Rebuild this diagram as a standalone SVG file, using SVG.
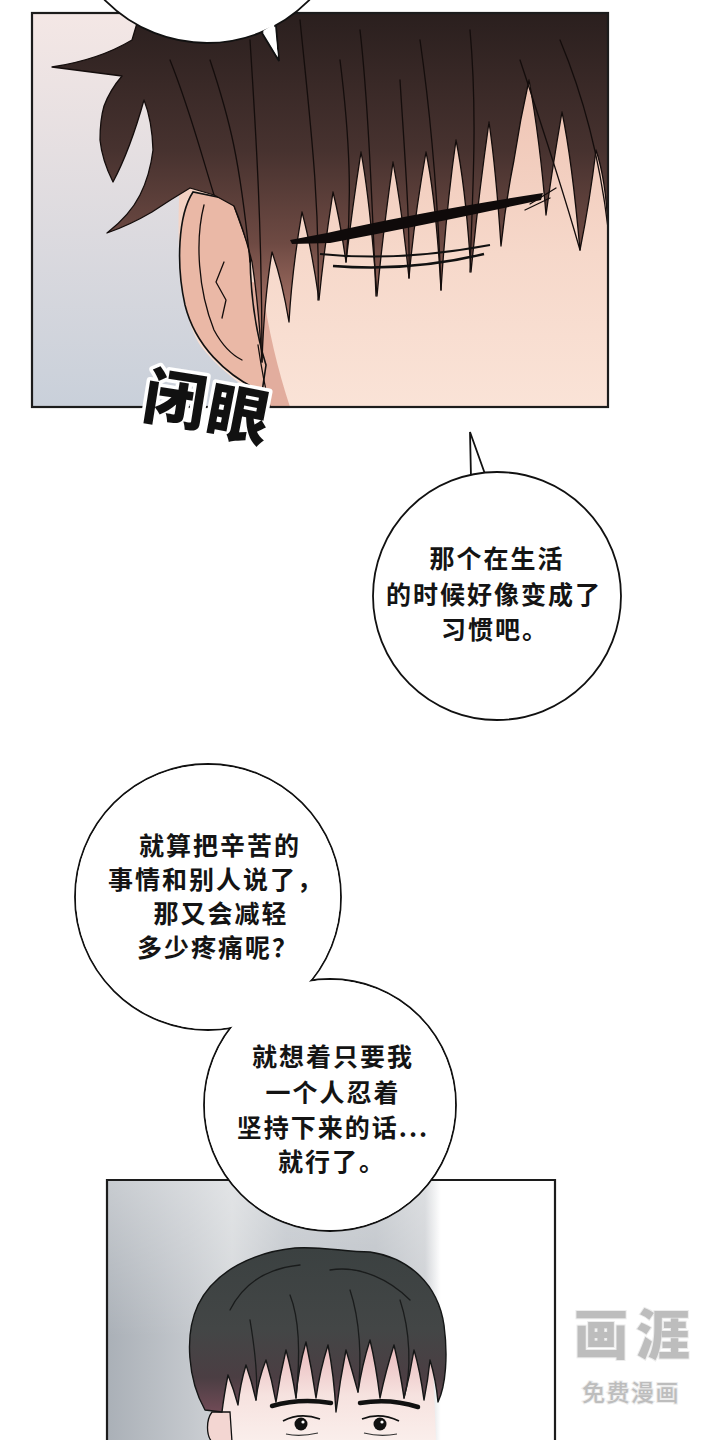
<svg xmlns="http://www.w3.org/2000/svg" width="720" height="1440" viewBox="0 0 720 1440">
<style>
.frame{fill:none;stroke:#1c1c1c;stroke-width:2.2}
.bub{fill:#fff;stroke:#111;stroke-width:1.8}
.bubfill{fill:#fff;stroke:none}
.t{font-family:"Noto Sans CJK SC","Noto Sans",sans-serif;font-size:25px;font-weight:700;letter-spacing:2px;text-anchor:middle;fill:#141414}
.sfx{font-family:"Noto Sans CJK SC","Noto Sans",sans-serif;font-size:62px;font-weight:900;text-anchor:middle;fill:#111;stroke:#fff;stroke-width:7;paint-order:stroke;stroke-linejoin:round}
.ink{fill:none;stroke:#140d0c;stroke-width:1.3;stroke-linecap:round;stroke-linejoin:round}
.ink2{fill:none;stroke:#1a1c1c;stroke-width:1.3;stroke-linecap:round}
.wm{font-family:"Noto Sans CJK SC","Noto Sans",sans-serif;text-anchor:middle;fill:#bdbdbd;stroke:#ececec;stroke-width:2;paint-order:stroke}
</style>
<defs>
<clipPath id="c1"><rect x="32" y="13" width="576" height="394"/></clipPath>
<clipPath id="c2"><rect x="107" y="1180" width="448" height="262"/></clipPath>
<linearGradient id="bg1" x1="0" y1="0" x2="0" y2="1"><stop offset="0" stop-color="#f4e7e5"/><stop offset="1" stop-color="#c9d0da"/></linearGradient>
<linearGradient id="skin1" gradientUnits="userSpaceOnUse" x1="0" y1="100" x2="0" y2="407"><stop offset="0" stop-color="#efc6b6"/><stop offset="0.5" stop-color="#f6d8ca"/><stop offset="1" stop-color="#fae3d7"/></linearGradient>
<linearGradient id="hair1" gradientUnits="userSpaceOnUse" x1="0" y1="13" x2="0" y2="320"><stop offset="0" stop-color="#2a1f1e"/><stop offset="0.45" stop-color="#47322f"/><stop offset="0.75" stop-color="#6e4a43"/><stop offset="1" stop-color="#a97467"/></linearGradient>
<linearGradient id="bg2" gradientUnits="userSpaceOnUse" x1="107" y1="0" x2="555" y2="0"><stop offset="0" stop-color="#aab0b7"/><stop offset="0.18" stop-color="#c3c7cc"/><stop offset="0.28" stop-color="#d3d6d9"/><stop offset="0.4" stop-color="#bcc1c7"/><stop offset="0.6" stop-color="#b8bdc3"/><stop offset="0.71" stop-color="#cbced2"/><stop offset="0.745" stop-color="#ffffff"/><stop offset="1" stop-color="#ffffff"/></linearGradient>
<linearGradient id="bg2v" x1="0" y1="0" x2="0" y2="1"><stop offset="0" stop-color="#fff" stop-opacity="0.35"/><stop offset="0.6" stop-color="#fff" stop-opacity="0"/></linearGradient>
<linearGradient id="hair2" gradientUnits="userSpaceOnUse" x1="0" y1="1248" x2="0" y2="1410"><stop offset="0" stop-color="#3b4141"/><stop offset="0.5" stop-color="#434646"/><stop offset="0.8" stop-color="#4b3e43"/><stop offset="1" stop-color="#6e4a55"/></linearGradient>
<linearGradient id="skin2" gradientUnits="userSpaceOnUse" x1="0" y1="1340" x2="0" y2="1440"><stop offset="0" stop-color="#e8b6b9"/><stop offset="0.55" stop-color="#f6e2df"/><stop offset="1" stop-color="#faeeeb"/></linearGradient>
</defs>

<rect width="720" height="1440" fill="#ffffff"/>

<g id="panel1">
<g clip-path="url(#c1)">
<rect x="32" y="13" width="576" height="394" fill="url(#bg1)"/>
<path d="M180,180 L608,60 L608,407 L272,407 C250,390 220,372 200,345 C183,318 175,260 180,180 Z" fill="url(#skin1)"/>
<path d="M246,280 C250,330 258,370 268,407 L290,407 C278,370 268,330 262,285 Z" fill="#dca090" opacity="0.8"/>
<path d="M193,192 C178,215 176,265 185,305 C195,345 225,375 262,392 L266,365 C255,330 250,290 250,250 L232,200 Z" fill="#eab8a6" stroke="#111" stroke-width="1.6"/>
<path class="ink" d="M204,205 C195,240 198,290 214,330 C222,345 232,355 242,360"/>
<path class="ink" d="M224,262 L216,282 L226,300 L222,318"/>
<path class="ink" d="M258,345 C262,372 266,392 270,407"/>
<path d="M52,67 C85,62 112,52 132,40 L140,13 L608,13 L608,228 Q606,180 596,150 Q590,200 580,250 Q572,160 562,112 Q552,170 546,215 Q540,140 529,80 Q520,120 514,160 Q506,200 501,246 Q496,170 489,122 Q478,200 471,272 Q466,190 456,140 Q446,210 441,290 Q436,200 426,152 Q414,220 409,278 Q402,210 393,162 Q382,240 377,296 Q370,200 361,152 Q352,210 346,262 Q340,220 333,192 Q324,250 319,300 Q312,250 302,212 Q292,270 289,322 Q282,280 272,252 Q264,300 262,362 Q258,300 252,262 Q244,230 234,206 L214,195 L190,188 Q170,200 152,212 Q130,225 107,233 Q130,215 140,195 Q150,175 153,150 Q152,120 144,100 Q130,150 113,182 Q102,160 100,140 Q100,120 104,106 Q110,90 122,76 Z" fill="url(#hair1)" stroke="#140d0c" stroke-width="1.3" stroke-linejoin="round"/>
<path class="ink" d="M300,20 C310,120 320,200 318,300"/>
<path class="ink" d="M360,30 C368,100 372,200 376,296"/>
<path class="ink" d="M420,40 C430,110 438,200 441,290"/>
<path class="ink" d="M470,30 C478,120 472,200 470,272"/>
<path class="ink" d="M250,40 C255,120 262,220 262,362"/>
<path class="ink" d="M520,60 C540,120 560,180 580,250"/>
<path class="ink" d="M210,60 C230,120 240,160 250,262"/>
<path class="ink" d="M340,60 C350,140 352,200 346,262"/>
<path class="ink" d="M560,40 C585,100 600,160 608,228"/>
<path class="ink" d="M400,80 C405,160 410,220 409,278"/>
<path class="ink" d="M170,60 C190,110 200,150 214,195"/>
<path d="M290,240 L327,233 Q420,212 543,193 L541,200 Q440,222 330,243 L292,244 Z" fill="#0f0a0a"/>
<path class="ink" d="M530,204 L556,188 M525,210 L550,198" stroke-width="1.5"/>
<path d="M320,254 Q400,262 490,245" fill="none" stroke="#111" stroke-width="2"/>
<path d="M333,266 Q410,272 484,254" fill="none" stroke="#111" stroke-width="2.6"/>
</g>
<rect class="frame" x="32" y="13" width="576" height="394"/>
</g>

<g id="bubble1">
<path class="bub" d="M262,33 L279,61 L276,26"/>
<circle class="bub" cx="207" cy="-100" r="143"/>
<path class="bubfill" d="M263,31 L278,57 L274,24 Z"/>
</g>

<g id="sfx">
<text class="sfx" x="175" y="422" transform="rotate(9 175 400)">闭</text>
<text class="sfx" x="238" y="437" transform="rotate(11 238 415)">眼</text>
</g>

<g id="bubble2">
<path class="bub" d="M471,478 L470,432 L485,474"/>
<circle class="bub" cx="497" cy="596" r="124"/>
<text class="t" x="497" y="568">那个在生活</text>
<text class="t" x="494" y="604">的时候好像变成了</text>
<text class="t" x="495" y="639">习惯吧。</text>
</g>

<g id="panel2">
<g clip-path="url(#c2)">
<rect x="107" y="1180" width="448" height="262" fill="url(#bg2)"/>
<rect x="107" y="1180" width="335" height="262" fill="url(#bg2v)"/>
<path d="M222,1340 L432,1340 L436,1440 L218,1440 Z" fill="url(#skin2)"/>
<path d="M212,1412 C206,1420 206,1435 212,1442 L232,1442 L230,1412 Z" fill="#f3d6d2" stroke="#111" stroke-width="1.3"/>
<path d="M205,1410 C188,1380 184,1335 198,1305 C215,1270 255,1252 295,1248 C320,1246 345,1252 370,1252 C410,1258 438,1285 444,1325 C448,1355 446,1385 438,1402 Q436,1380 430,1360 Q428,1380 424,1400 Q420,1370 414,1350 Q410,1375 404,1398 Q400,1370 394,1345 Q386,1370 380,1398 Q376,1365 370,1340 Q362,1365 358,1392 Q352,1370 346,1350 Q340,1380 336,1412 Q334,1375 328,1345 Q320,1370 316,1398 Q312,1370 306,1342 Q298,1370 296,1398 Q292,1372 286,1350 Q280,1375 276,1402 Q272,1380 266,1360 Q258,1380 256,1400 Q252,1382 246,1365 Q240,1385 238,1405 Q234,1390 228,1375 Q224,1395 222,1412 Z" fill="url(#hair2)" stroke="#141616" stroke-width="1.4" stroke-linejoin="round"/>
<path class="ink2" d="M230,1310 C245,1280 270,1268 300,1265"/>
<path class="ink2" d="M330,1270 C360,1265 390,1280 410,1300"/>
<path class="ink2" d="M290,1295 C300,1320 300,1360 296,1398"/>
<path class="ink2" d="M350,1290 C360,1320 362,1360 358,1392"/>
<path class="ink2" d="M250,1320 C255,1350 258,1380 256,1400"/>
<path class="ink2" d="M400,1300 C410,1330 412,1370 404,1398"/>
<path d="M272,1406 Q300,1398 331,1403" fill="none" stroke="#111" stroke-width="4.5" stroke-linecap="round"/>
<path d="M360,1403 Q390,1398 418,1407" fill="none" stroke="#111" stroke-width="4.5" stroke-linecap="round"/>
<path d="M283,1421 Q300,1412 320,1419" fill="none" stroke="#111" stroke-width="1.8"/>
<path d="M362,1419 Q380,1412 399,1421" fill="none" stroke="#111" stroke-width="1.8"/>
<circle cx="301" cy="1424" r="6.5" fill="#111"/>
<circle cx="380" cy="1424" r="6.5" fill="#111"/>
<circle cx="303" cy="1422" r="1.6" fill="#fff"/>
<circle cx="382" cy="1422" r="1.6" fill="#fff"/>
<path d="M286,1434 Q300,1437 318,1433 M364,1433 Q380,1437 397,1434" fill="none" stroke="#333" stroke-width="1.2"/>
</g>
<path class="frame" d="M107,1442 L107,1180 L555,1180 L555,1442"/>
</g>

<g id="bubble3-4">
<circle class="bub" cx="208" cy="897" r="133"/>
<circle class="bub" cx="330" cy="1105" r="126"/>
<circle class="bubfill" cx="208" cy="897" r="132"/>
<circle class="bubfill" cx="330" cy="1105" r="125"/>
<text class="t" x="220" y="855">就算把辛苦的</text>
<text class="t" x="216" y="889">事情和别人说了，</text>
<text class="t" x="221" y="923">那又会减轻</text>
<text class="t" x="218" y="957">多少疼痛呢？</text>
<text class="t" x="333" y="1066">就想着只要我</text>
<text class="t" x="333" y="1102">一个人忍着</text>
<text class="t" x="333" y="1137">坚持下来的话...</text>
<text class="t" x="332" y="1171">就行了。</text>
</g>

<g id="watermark">
<text class="wm" x="636" y="1355" font-size="54" font-weight="900" letter-spacing="8">画涯</text>
<text class="wm" x="631" y="1401" font-size="23" font-weight="500" letter-spacing="1.5">免费漫画</text>
</g>
</svg>
